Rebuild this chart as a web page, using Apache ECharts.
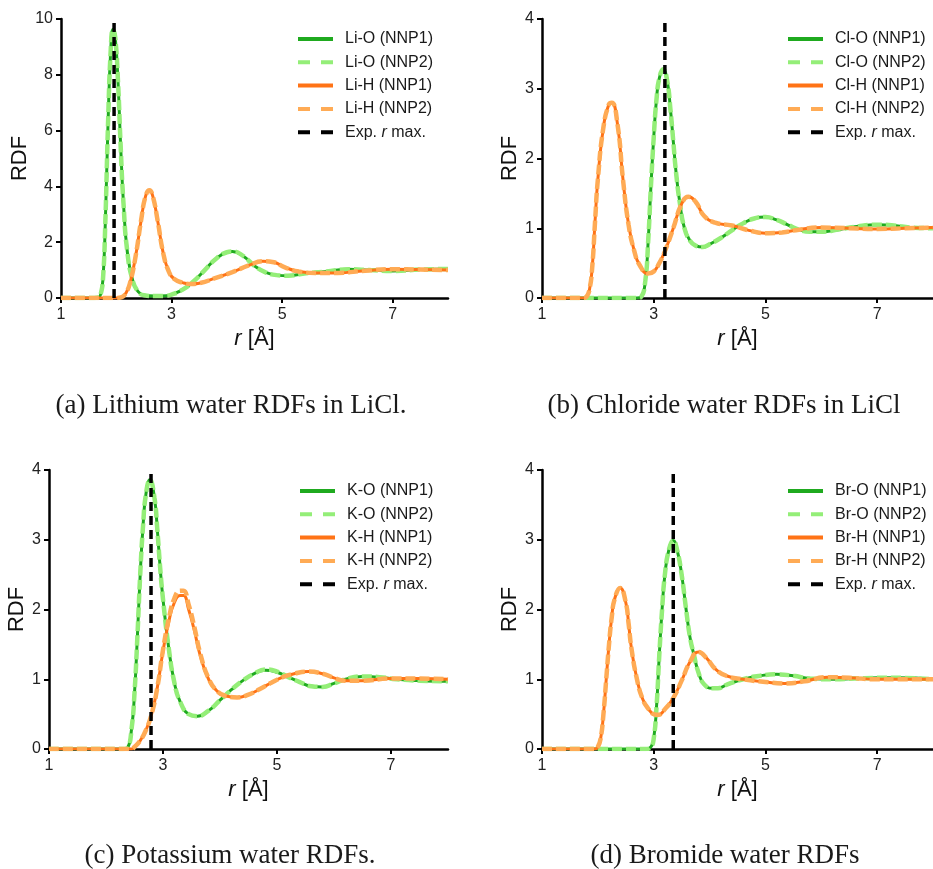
<!DOCTYPE html>
<html>
<head>
<meta charset="utf-8">
<script src="https://cdn.jsdelivr.net/npm/echarts@6.0.0/dist/echarts.min.js"></script>
<style>
html,body{margin:0;padding:0;background:#fff;}
#chart{width:933px;height:869px;}
</style>
</head>
<body>
<div id="chart"></div>
<script>
// ---------- DATA ----------
const xTicks = [1, 3, 5, 7];
const captions = ['(a) Lithium water RDFs in LiCl.', '(b) Chloride water RDFs in LiCl', '(c) Potassium water RDFs.', '(d) Bromide water RDFs'];
const expRmax = [1.96, 3.2, 2.79, 3.35];
const yMaxes = [10, 4, 4, 4];

// Panel (a) Li
const liO_NNP1 = [[1,0],[1.6,0],[1.68,0.02],[1.72,0.15],[1.76,0.7],[1.8,2.6],[1.85,6.2],[1.9,8.9],[1.94,9.62],[1.98,9.35],[2.03,7.8],[2.08,5.4],[2.13,3.4],[2.2,1.65],[2.3,0.6],[2.4,0.22],[2.5,0.1],[2.7,0.07],[2.9,0.08],[3.0,0.12],[3.2,0.3],[3.4,0.6],[3.6,1.0],[3.8,1.4],[4.0,1.64],[4.1,1.67],[4.3,1.5],[4.5,1.15],[4.7,0.92],[4.9,0.82],[5.1,0.8],[5.4,0.88],[5.8,0.95],[6.2,1.03],[6.6,1.0],[7.0,0.97],[7.5,1.02],[8.0,1.04]];
const liO_NNP2 = [[1,0],[1.6,0],[1.68,0.02],[1.72,0.15],[1.76,0.7],[1.8,2.6],[1.85,6.2],[1.9,8.9],[1.94,9.62],[1.98,9.35],[2.03,7.8],[2.08,5.4],[2.13,3.4],[2.2,1.65],[2.3,0.6],[2.4,0.22],[2.5,0.1],[2.7,0.07],[2.9,0.08],[3.0,0.12],[3.2,0.3],[3.4,0.6],[3.6,1.0],[3.8,1.4],[4.0,1.64],[4.1,1.67],[4.3,1.5],[4.5,1.15],[4.7,0.92],[4.9,0.82],[5.1,0.8],[5.4,0.88],[5.8,0.95],[6.2,1.03],[6.6,1.0],[7.0,0.97],[7.5,1.02],[8.0,1.04]];
const liH_NNP1 = [[1,0],[2.0,0],[2.1,0.03],[2.18,0.2],[2.25,0.55],[2.35,1.5],[2.45,2.8],[2.53,3.65],[2.6,3.86],[2.66,3.65],[2.75,2.75],[2.85,1.6],[2.95,0.95],[3.05,0.68],[3.2,0.55],[3.35,0.5],[3.5,0.53],[3.8,0.72],[4.1,0.93],[4.4,1.17],[4.65,1.32],[4.85,1.28],[5.05,1.1],[5.3,0.95],[5.6,0.9],[6.0,0.9],[6.5,0.98],[7.0,1.03],[7.5,1.02],[8.0,1.0]];
const liH_NNP2 = [[1,0],[2.0,0],[2.1,0.03],[2.18,0.2],[2.25,0.55],[2.35,1.5],[2.45,2.8],[2.53,3.65],[2.6,3.86],[2.66,3.65],[2.75,2.75],[2.85,1.6],[2.95,0.95],[3.05,0.68],[3.2,0.55],[3.35,0.5],[3.5,0.53],[3.8,0.72],[4.1,0.93],[4.4,1.17],[4.65,1.32],[4.85,1.28],[5.05,1.1],[5.3,0.95],[5.6,0.9],[6.0,0.9],[6.5,0.98],[7.0,1.03],[7.5,1.02],[8.0,1.0]];

// Panel (b) Cl
const clO_NNP1 = [[1,0],[2.7,0],[2.78,0.02],[2.85,0.25],[2.9,0.8],[2.95,1.6],[3.0,2.3],[3.05,2.85],[3.1,3.15],[3.17,3.28],[3.24,3.12],[3.3,2.7],[3.35,2.25],[3.4,1.8],[3.47,1.35],[3.55,1.0],[3.65,0.82],[3.75,0.75],[3.88,0.73],[4.0,0.77],[4.2,0.86],[4.4,0.97],[4.6,1.07],[4.8,1.14],[5.0,1.16],[5.2,1.12],[5.4,1.05],[5.6,0.98],[5.8,0.95],[6.0,0.95],[6.3,0.98],[6.6,1.02],[7.0,1.05],[7.3,1.04],[7.6,1.01],[8.0,1.0]];
const clO_NNP2 = [[1,0],[2.7,0],[2.78,0.02],[2.85,0.25],[2.9,0.8],[2.95,1.6],[3.0,2.3],[3.05,2.85],[3.1,3.15],[3.17,3.28],[3.24,3.12],[3.3,2.7],[3.35,2.25],[3.4,1.8],[3.47,1.35],[3.55,1.0],[3.65,0.82],[3.75,0.75],[3.88,0.73],[4.0,0.77],[4.2,0.86],[4.4,0.97],[4.6,1.07],[4.8,1.14],[5.0,1.16],[5.2,1.12],[5.4,1.05],[5.6,0.98],[5.8,0.95],[6.0,0.95],[6.3,0.98],[6.6,1.02],[7.0,1.05],[7.3,1.04],[7.6,1.01],[8.0,1.0]];
const clH_NNP1 = [[1,0],[1.75,0],[1.8,0.02],[1.85,0.12],[1.9,0.45],[1.95,1.1],[2.0,1.7],[2.1,2.45],[2.2,2.78],[2.25,2.8],[2.35,2.5],[2.45,1.7],[2.55,1.05],[2.65,0.68],[2.75,0.47],[2.9,0.35],[3.0,0.38],[3.1,0.5],[3.2,0.67],[3.35,1.0],[3.5,1.35],[3.62,1.45],[3.75,1.38],[3.9,1.18],[4.1,1.08],[4.4,1.04],[4.7,0.97],[5.0,0.93],[5.3,0.94],[5.6,0.98],[6.0,1.01],[6.5,1.0],[7.0,0.99],[7.5,1.0],[8.0,1.01]];
const clH_NNP2 = [[1,0],[1.75,0],[1.8,0.02],[1.85,0.12],[1.9,0.45],[1.95,1.1],[2.0,1.7],[2.1,2.45],[2.2,2.78],[2.25,2.8],[2.35,2.5],[2.45,1.7],[2.55,1.05],[2.65,0.68],[2.75,0.47],[2.9,0.35],[3.0,0.38],[3.1,0.5],[3.2,0.67],[3.35,1.0],[3.5,1.35],[3.62,1.45],[3.75,1.38],[3.9,1.18],[4.1,1.08],[4.4,1.04],[4.7,0.97],[5.0,0.93],[5.3,0.94],[5.6,0.98],[6.0,1.01],[6.5,1.0],[7.0,0.99],[7.5,1.0],[8.0,1.01]];

// Panel (c) K
const kO_NNP1 = [[1,0],[2.3,0],[2.38,0.02],[2.45,0.3],[2.5,0.8],[2.55,1.6],[2.6,2.5],[2.65,3.2],[2.7,3.65],[2.77,3.86],[2.85,3.6],[2.9,3.15],[2.95,2.6],[3.0,2.15],[3.1,1.45],[3.2,0.95],[3.3,0.68],[3.45,0.5],[3.6,0.47],[3.8,0.55],[4.0,0.7],[4.2,0.85],[4.4,0.98],[4.6,1.08],[4.8,1.13],[5.0,1.1],[5.2,1.03],[5.4,0.96],[5.6,0.9],[5.8,0.89],[6.0,0.94],[6.2,1.0],[6.5,1.04],[6.8,1.03],[7.1,1.0],[7.5,0.98],[8.0,0.97]];
const kO_NNP2 = [[1,0],[2.3,0],[2.38,0.02],[2.45,0.3],[2.5,0.8],[2.55,1.6],[2.6,2.5],[2.65,3.2],[2.7,3.65],[2.77,3.86],[2.85,3.6],[2.9,3.15],[2.95,2.6],[3.0,2.15],[3.1,1.45],[3.2,0.95],[3.3,0.68],[3.45,0.5],[3.6,0.47],[3.8,0.55],[4.0,0.7],[4.2,0.85],[4.4,0.98],[4.6,1.08],[4.8,1.14],[5.0,1.11],[5.2,1.03],[5.4,0.96],[5.6,0.9],[5.8,0.89],[6.0,0.94],[6.2,1.0],[6.5,1.04],[6.8,1.03],[7.1,1.0],[7.5,0.98],[8.0,0.97]];
const kH_NNP1 = [[1,0],[2.45,0],[2.5,0.03],[2.6,0.12],[2.7,0.27],[2.8,0.5],[2.9,0.88],[3.0,1.4],[3.1,1.82],[3.2,2.1],[3.3,2.2],[3.36,2.2],[3.45,2.0],[3.55,1.7],[3.65,1.35],[3.8,1.0],[3.95,0.83],[4.1,0.76],[4.3,0.74],[4.5,0.78],[4.7,0.86],[4.9,0.95],[5.1,1.03],[5.3,1.08],[5.55,1.11],[5.8,1.08],[6.0,1.02],[6.2,0.98],[6.5,0.98],[7.0,1.01],[7.5,1.01],[8.0,1.0]];
const kH_NNP2 = [[1,0],[2.45,0],[2.5,0.03],[2.6,0.12],[2.7,0.27],[2.8,0.5],[2.9,0.88],[3.0,1.42],[3.1,1.86],[3.2,2.16],[3.3,2.27],[3.36,2.27],[3.45,2.07],[3.55,1.75],[3.65,1.38],[3.8,1.01],[3.95,0.83],[4.1,0.76],[4.3,0.74],[4.5,0.78],[4.7,0.86],[4.9,0.95],[5.1,1.03],[5.3,1.08],[5.55,1.11],[5.8,1.08],[6.0,1.02],[6.2,0.98],[6.5,0.98],[7.0,1.01],[7.5,1.01],[8.0,1.0]];

// Panel (d) Br
const brO_NNP1 = [[1,0],[2.85,0],[2.95,0.03],[3.0,0.15],[3.05,0.6],[3.1,1.35],[3.15,2.0],[3.2,2.5],[3.27,2.85],[3.35,2.99],[3.42,2.85],[3.5,2.5],[3.58,2.0],[3.65,1.6],[3.72,1.35],[3.8,1.1],[3.9,0.93],[4.05,0.87],[4.15,0.87],[4.3,0.92],[4.6,1.0],[4.9,1.05],[5.2,1.07],[5.5,1.05],[5.8,1.01],[6.2,1.0],[6.6,1.01],[7.0,1.02],[7.4,1.02],[8.0,1.0]];
const brO_NNP2 = [[1,0],[2.85,0],[2.95,0.03],[3.0,0.15],[3.05,0.6],[3.1,1.35],[3.15,2.0],[3.2,2.5],[3.27,2.85],[3.35,2.99],[3.42,2.85],[3.5,2.5],[3.58,2.0],[3.65,1.6],[3.72,1.35],[3.8,1.1],[3.9,0.93],[4.05,0.87],[4.15,0.87],[4.3,0.92],[4.6,1.0],[4.9,1.05],[5.2,1.07],[5.5,1.05],[5.8,1.01],[6.2,1.0],[6.6,1.01],[7.0,1.02],[7.4,1.02],[8.0,1.0]];
const brH_NNP1 = [[1,0],[1.95,0],[2.0,0.03],[2.05,0.15],[2.1,0.5],[2.15,1.0],[2.2,1.5],[2.25,1.9],[2.3,2.15],[2.4,2.31],[2.5,2.1],[2.55,1.8],[2.6,1.45],[2.7,1.0],[2.8,0.72],[2.9,0.58],[3.0,0.5],[3.08,0.49],[3.2,0.57],[3.35,0.73],[3.5,0.98],[3.65,1.25],[3.8,1.39],[3.95,1.3],[4.1,1.15],[4.3,1.05],[4.6,1.0],[5.0,0.96],[5.35,0.94],[5.7,0.97],[6.1,1.03],[6.5,1.02],[7.0,1.0],[7.5,1.0],[8.0,1.0]];
const brH_NNP2 = [[1,0],[1.95,0],[2.0,0.03],[2.05,0.15],[2.1,0.5],[2.15,1.0],[2.2,1.5],[2.25,1.9],[2.3,2.15],[2.4,2.31],[2.5,2.1],[2.55,1.8],[2.6,1.45],[2.7,1.0],[2.8,0.72],[2.9,0.58],[3.0,0.5],[3.08,0.49],[3.2,0.57],[3.35,0.73],[3.5,0.98],[3.65,1.25],[3.8,1.39],[3.95,1.3],[4.1,1.15],[4.3,1.05],[4.6,1.0],[5.0,0.96],[5.35,0.94],[5.7,0.97],[6.1,1.03],[6.5,1.02],[7.0,1.0],[7.5,1.0],[8.0,1.0]];

const seriesNames = [
  ['Li-O (NNP1)', 'Li-O (NNP2)', 'Li-H (NNP1)', 'Li-H (NNP2)'],
  ['Cl-O (NNP1)', 'Cl-O (NNP2)', 'Cl-H (NNP1)', 'Cl-H (NNP2)'],
  ['K-O (NNP1)', 'K-O (NNP2)', 'K-H (NNP1)', 'K-H (NNP2)'],
  ['Br-O (NNP1)', 'Br-O (NNP2)', 'Br-H (NNP1)', 'Br-H (NNP2)']
];
const seriesData = [
  [liO_NNP1, liO_NNP2, liH_NNP1, liH_NNP2],
  [clO_NNP1, clO_NNP2, clH_NNP1, clH_NNP2],
  [kO_NNP1, kO_NNP2, kH_NNP1, kH_NNP2],
  [brO_NNP1, brO_NNP2, brH_NNP1, brH_NNP2]
];
const expName = 'Exp. r max.';

// ---------- LAYOUT / STYLE ----------
const SANS = '"Liberation Sans", Arial, sans-serif';
const SERIF = '"Liberation Serif", "Times New Roman", serif';
const colors = ['#1faa1f', '#94ee78', '#ff7316', '#ffab55'];
const ICON_SOLID = 'path://M0,0H35V4H0Z';
const ICON_DASH = 'path://M0,0H12V4H0Z M23,0H35V4H23Z';
const grids = [
  {left: 61, top: 19, width: 387, height: 279},
  {left: 542, top: 19, width: 399, height: 279},
  {left: 49, top: 470, width: 399, height: 279},
  {left: 542, top: 470, width: 399, height: 279}
];
const yNameGaps = [27, 18, 18, 18];
const legendPos = [{left: 298, top: 30}, {left: 788, top: 30}, {left: 300, top: 482}, {left: 788, top: 482}];
const captionPos = [[231, 406], [724, 406], [230, 856], [725, 856]];

const option = {
  animation: false,
  backgroundColor: '#fff',
  textStyle: {fontFamily: SANS},
  grid: [], xAxis: [], yAxis: [], series: [], legend: [], graphic: []
};

for (let p = 0; p < 4; p++) {
  option.grid.push(Object.assign({containLabel: false}, grids[p]));
  option.xAxis.push({
    type: 'value', gridIndex: p, min: 1, max: 8, interval: 2,
    name: '{i|r} [Å]', nameLocation: 'middle', nameGap: 30,
    nameTextStyle: {fontSize: 22, color: '#111', fontFamily: SANS,
      rich: {i: {fontStyle: 'italic', fontSize: 22, color: '#111', fontFamily: SANS}}},
    axisLine: {show: true, onZero: false, lineStyle: {color: '#000', width: 2.5}},
    axisTick: {show: true, length: 5, lineStyle: {color: '#000', width: 2}, customValues: xTicks},
    axisLabel: {fontSize: 16, color: '#222', margin: 9, customValues: xTicks},
    splitLine: {show: false}
  });
  option.yAxis.push({
    type: 'value', gridIndex: p, min: 0, max: yMaxes[p], interval: yMaxes[p] === 10 ? 2 : 1,
    name: 'RDF', nameLocation: 'middle', nameRotate: 90, nameGap: yNameGaps[p],
    nameTextStyle: {fontSize: 22, color: '#111', fontFamily: SANS},
    axisLine: {show: true, lineStyle: {color: '#000', width: 2.5}},
    axisTick: {show: true, length: 5, lineStyle: {color: '#000', width: 2}},
    axisLabel: {fontSize: 16, color: '#222', margin: 8},
    splitLine: {show: false}
  });
  for (let s = 0; s < 4; s++) {
    const dashed = s % 2 === 1;
    option.series.push({
      type: 'line', name: seriesNames[p][s], xAxisIndex: p, yAxisIndex: p,
      data: seriesData[p][s], showSymbol: false, symbol: 'none',
      smooth: 0.5, clip: true,
      lineStyle: {color: colors[s], width: dashed ? 4.5 : 3, type: dashed ? [10, 4] : 'solid'},
      itemStyle: {color: colors[s]},
      emphasis: {disabled: true}, silent: true, z: 2 + s
    });
  }
  option.series.push({
    type: 'line', name: expName, xAxisIndex: p, yAxisIndex: p,
    data: [[expRmax[p], 0], [expRmax[p], yMaxes[p]]],
    showSymbol: false, symbol: 'none',
    lineStyle: {color: '#000', width: 3.5, type: [9, 5]},
    itemStyle: {color: '#000'},
    emphasis: {disabled: true}, silent: true, z: 10
  });
  option.legend.push({
    left: legendPos[p].left, top: legendPos[p].top, orient: 'vertical',
    padding: 0, itemWidth: 35, itemHeight: 4, itemGap: 5.3,
    selectedMode: false,
    data: [
      {name: seriesNames[p][0], icon: ICON_SOLID},
      {name: seriesNames[p][1], icon: ICON_DASH},
      {name: seriesNames[p][2], icon: ICON_SOLID},
      {name: seriesNames[p][3], icon: ICON_DASH},
      {name: expName, icon: ICON_DASH}
    ],
    formatter: function (name) {
      return name === expName ? '{n|Exp. }{i|r}{n| max.}' : '{n|' + name + '}';
    },
    textStyle: {fontSize: 16, lineHeight: 18, color: '#1a1a1a', fontFamily: SANS, padding: [0, 0, 0, 7],
      rich: {n: {fontSize: 16, lineHeight: 18, color: '#1a1a1a', fontFamily: SANS},
             i: {fontSize: 16, lineHeight: 18, color: '#1a1a1a', fontFamily: SANS, fontStyle: 'italic'}}}
  });
  option.graphic.push({
    type: 'text', x: captionPos[p][0], y: captionPos[p][1], silent: true,
    style: {text: captions[p], fill: '#1a1a1a', font: '27px ' + SERIF,
      align: 'center', verticalAlign: 'middle', textAlign: 'center', textVerticalAlign: 'middle'}
  });
}

const chart = echarts.init(document.getElementById('chart'), null, {renderer: 'canvas'});
chart.setOption(option);
</script>
</body>
</html>
